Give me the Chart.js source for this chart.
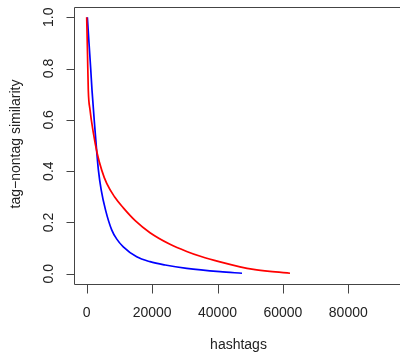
<!DOCTYPE html>
<html>
<head>
<meta charset="utf-8">
<script src="https://cdn.jsdelivr.net/npm/chart.js@4/dist/chart.umd.min.js"></script>
<style>
  html, body { margin: 0; padding: 0; background: #fff; }
  #wrap { width: 400px; height: 360px; position: relative; }
</style>
</head>
<body>
<div id="wrap"><canvas id="c" width="400" height="360"></canvas></div>
<script>
// ---- data ----
const redX  = [0, 250, 490, 1010, 2020, 3200, 4590, 6120, 8500, 11200, 15000, 19360, 25470, 30580, 35000, 40770, 46880, 51000, 56000, 62170];
const redY  = [1.0, 0.855, 0.715, 0.64, 0.55, 0.47, 0.404, 0.352, 0.30, 0.257, 0.205, 0.16, 0.115, 0.087, 0.067, 0.046, 0.027, 0.017, 0.009, 0.002];
const blueX = [200, 700, 1220, 1620, 2540, 3030, 3580, 4430, 5750, 7645, 9200, 11190, 15290, 19360, 24000, 30580, 40770, 47500];
const blueY = [1.0, 0.9, 0.8, 0.716, 0.56, 0.482, 0.404, 0.327, 0.249, 0.171, 0.135, 0.105, 0.066, 0.047, 0.034, 0.021, 0.008, 0.002];
const xTicks = [0, 20000, 40000, 60000, 80000];
const xTickLabels = ["0", "20000", "40000", "60000", "80000"];
const yTicks = [0, 0.2, 0.4, 0.6, 0.8, 1.0];
const yTickLabels = ["0.0", "0.2", "0.4", "0.6", "0.8", "1.0"];
const xTitle = "hashtags";
const yTitle = "tag\u2212nontag similarity";

const toPts = (xs, ys) => xs.map((x, i) => ({ x: x, y: ys[i] }));
const FONT = "14px 'Liberation Sans', Arial, Helvetica, sans-serif";

const rAxes = {
  id: 'rAxes',
  afterDraw(chart) {
    const ctx = chart.ctx, a = chart.chartArea;
    const xs = chart.scales.x, ys = chart.scales.y;
    ctx.save();
    // box (right side lies beyond the canvas)
    ctx.strokeStyle = '#444';
    ctx.lineWidth = 1;
    ctx.beginPath();
    const L = Math.round(a.left) + 0.5, T = Math.round(a.top) + 0.5, B = Math.round(a.bottom) + 0.5;
    ctx.moveTo(chart.width + 2, T); ctx.lineTo(L, T); ctx.lineTo(L, B); ctx.lineTo(chart.width + 2, B);
    ctx.stroke();
    ctx.beginPath();
    xTicks.forEach(v => {
      const p = Math.round(xs.getPixelForValue(v)) + 0.5;
      ctx.moveTo(p, B); ctx.lineTo(p, B + 9);
    });
    yTicks.forEach(v => {
      const p = Math.round(ys.getPixelForValue(v)) + 0.5;
      ctx.moveTo(L, p); ctx.lineTo(L - 8, p);
    });
    ctx.stroke();
    ctx.fillStyle = '#222';
    ctx.font = FONT;
    ctx.textAlign = 'center';
    ctx.textBaseline = 'alphabetic';
    xTicks.forEach((v, i) => {
      ctx.fillText(xTickLabels[i], xs.getPixelForValue(v), 316.5);
    });
    yTicks.forEach((v, i) => {
      ctx.save();
      ctx.translate(53.3, ys.getPixelForValue(v));
      ctx.rotate(-Math.PI / 2);
      ctx.fillText(yTickLabels[i], 0, 0);
      ctx.restore();
    });
    ctx.fillText(xTitle, 238.5, 349);
    ctx.save();
    ctx.translate(19.5, (a.top + a.bottom) / 2 - 1.5);
    ctx.rotate(-Math.PI / 2);
    ctx.fillText(yTitle, 0, 0);
    ctx.restore();
    ctx.restore();
  }
};

new Chart(document.getElementById('c'), {
  type: 'scatter',
  data: {
    datasets: [
      { label: 'red', data: toPts(redX, redY), showLine: true, borderColor: '#ff0000', borderWidth: 1.7,
        pointRadius: 0, fill: false, cubicInterpolationMode: 'monotone' },
      { label: 'blue', data: toPts(blueX, blueY), showLine: true, borderColor: '#0000ff', borderWidth: 1.7,
        pointRadius: 0, fill: false, cubicInterpolationMode: 'monotone' }
    ]
  },
  options: {
    responsive: false,
    animation: false,
    devicePixelRatio: 1,
    layout: { padding: { left: 74, top: 7, right: 0, bottom: 76 } },
    plugins: { legend: { display: false }, tooltip: { enabled: false } },
    scales: {
      x: { type: 'linear', min: -3884, max: 95810, display: false },
      y: { type: 'linear', min: -0.04, max: 1.04, display: false }
    }
  },
  plugins: [rAxes]
});
</script>
</body>
</html>
